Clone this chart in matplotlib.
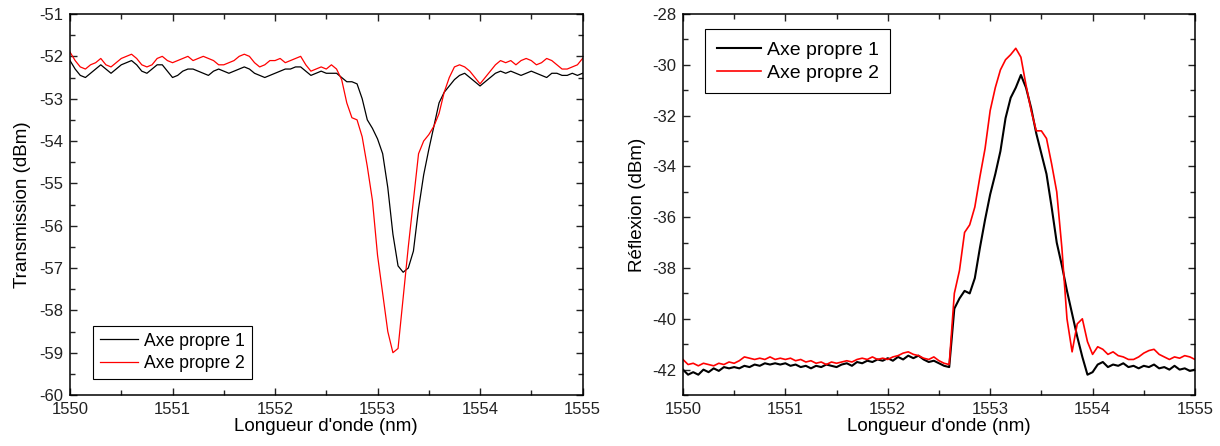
import numpy as np
import matplotlib
matplotlib.use("Agg")
import matplotlib.pyplot as plt
from matplotlib.ticker import MultipleLocator

plt.rcParams['font.family'] = ['Liberation Sans', 'DejaVu Sans']
plt.rcParams['axes.unicode_minus'] = False

# Transmission spectra (dBm), sampled every 0.05 nm from 1550 to 1555 nm
trans_axe1 = [
    -52.1, -52.3, -52.45, -52.5, -52.4, -52.3, -52.2, -52.3, -52.4, -52.3,      # 1550.0
    -52.2, -52.15, -52.1, -52.2, -52.35, -52.4, -52.3, -52.2, -52.2, -52.35,    # 1550.5
    -52.5, -52.45, -52.35, -52.3, -52.3, -52.35, -52.4, -52.45, -52.35, -52.3,  # 1551.0
    -52.35, -52.4, -52.35, -52.3, -52.25, -52.3, -52.4, -52.45, -52.5, -52.45,  # 1551.5
    -52.4, -52.35, -52.3, -52.3, -52.25, -52.25, -52.35, -52.45, -52.4, -52.35, # 1552.0
    -52.4, -52.4, -52.4, -52.5, -52.6, -52.6, -52.65, -53.0, -53.5, -53.7,      # 1552.5
    -53.95, -54.3, -55.1, -56.2, -56.95, -57.1, -57.0, -56.6, -55.6, -54.8,     # 1553.0
    -54.2, -53.65, -53.1, -52.85, -52.7, -52.55, -52.45, -52.4, -52.5, -52.6,   # 1553.5
    -52.7, -52.6, -52.5, -52.4, -52.35, -52.4, -52.35, -52.4, -52.45, -52.4,    # 1554.0
    -52.35, -52.4, -52.45, -52.5, -52.4, -52.4, -52.45, -52.45, -52.4, -52.45,  # 1554.5
    -52.4,                                                                      # 1555.0
]
trans_axe2 = [
    -51.9, -52.1, -52.25, -52.3, -52.2, -52.15, -52.05, -52.2, -52.25, -52.15,  # 1550.0
    -52.05, -52.0, -51.95, -52.05, -52.2, -52.25, -52.2, -52.05, -52.0, -52.1,  # 1550.5
    -52.15, -52.1, -52.05, -52.0, -52.1, -52.05, -52.0, -52.05, -52.1, -52.2,   # 1551.0
    -52.2, -52.15, -52.1, -52.0, -51.95, -52.0, -52.15, -52.25, -52.2, -52.1,   # 1551.5
    -52.1, -52.05, -52.15, -52.1, -52.05, -52.0, -52.2, -52.35, -52.3, -52.25,  # 1552.0
    -52.3, -52.2, -52.3, -52.55, -53.1, -53.45, -53.5, -53.9, -54.6, -55.4,     # 1552.5
    -56.7, -57.6, -58.5, -59.0, -58.9, -57.7, -56.5, -55.4, -54.3, -54.0,       # 1553.0
    -53.85, -53.65, -53.35, -52.85, -52.5, -52.25, -52.2, -52.25, -52.35, -52.5,  # 1553.5
    -52.65, -52.5, -52.35, -52.2, -52.1, -52.15, -52.1, -52.2, -52.1, -52.05,   # 1554.0
    -52.1, -52.2, -52.15, -52.05, -52.1, -52.2, -52.3, -52.3, -52.25, -52.2,    # 1554.5
    -52.05,                                                                     # 1555.0
]

# Reflection spectra (dBm), same wavelength sampling
refl_axe1 = [
    -42.0, -42.2, -42.1, -42.2, -42.0, -42.1, -41.95, -42.05, -41.9, -41.95,    # 1550.0
    -41.9, -41.95, -41.85, -41.9, -41.8, -41.85, -41.75, -41.8, -41.75, -41.8,  # 1550.5
    -41.75, -41.85, -41.8, -41.9, -41.85, -41.95, -41.85, -41.9, -41.8, -41.85, # 1551.0
    -41.9, -41.8, -41.75, -41.85, -41.7, -41.75, -41.65, -41.7, -41.6, -41.65,  # 1551.5
    -41.55, -41.65, -41.5, -41.6, -41.45, -41.55, -41.45, -41.6, -41.7, -41.65, # 1552.0
    -41.75, -41.85, -41.9, -39.6, -39.2, -38.9, -39.0, -38.4, -37.2, -36.1,     # 1552.5
    -35.1, -34.3, -33.4, -32.1, -31.3, -30.9, -30.4, -30.9, -31.7, -32.7,       # 1553.0
    -33.5, -34.3, -35.6, -37.0, -37.9, -38.9, -39.8, -40.7, -41.5, -42.2,       # 1553.5
    -42.1, -41.8, -41.7, -41.9, -41.8, -41.85, -41.75, -41.9, -41.85, -41.95,   # 1554.0
    -41.85, -41.9, -41.8, -41.95, -41.9, -42.0, -41.85, -42.0, -41.95, -42.05,  # 1554.5
    -42.0,                                                                      # 1555.0
]
refl_axe2 = [
    -41.6, -41.8, -41.75, -41.85, -41.75, -41.8, -41.85, -41.75, -41.8, -41.7,  # 1550.0
    -41.75, -41.65, -41.5, -41.55, -41.6, -41.55, -41.6, -41.5, -41.6, -41.55,  # 1550.5
    -41.6, -41.55, -41.65, -41.6, -41.7, -41.65, -41.75, -41.7, -41.8, -41.7,   # 1551.0
    -41.75, -41.7, -41.65, -41.7, -41.6, -41.55, -41.6, -41.5, -41.6, -41.55,   # 1551.5
    -41.6, -41.5, -41.45, -41.35, -41.3, -41.4, -41.45, -41.55, -41.6, -41.5,   # 1552.0
    -41.65, -41.75, -41.8, -39.0, -38.1, -36.6, -36.3, -35.6, -34.4, -33.3,     # 1552.5
    -31.8, -30.9, -30.2, -29.8, -29.6, -29.35, -29.7, -30.8, -31.8, -32.6,      # 1553.0
    -32.6, -32.9, -33.9, -35.0, -37.2, -40.0, -41.3, -40.2, -40.0, -40.9,       # 1553.5
    -41.4, -41.1, -41.2, -41.4, -41.3, -41.45, -41.5, -41.6, -41.6, -41.5,      # 1554.0
    -41.35, -41.25, -41.2, -41.4, -41.5, -41.6, -41.5, -41.55, -41.45, -41.5,   # 1554.5
    -41.6,                                                                      # 1555.0
]

wl = np.linspace(1550, 1555, len(trans_axe1))
labels = ['Axe propre 1', 'Axe propre 2']


def style_axes(ax, ymin, ymax, ymajor, yminor):
    ax.set_xlim(1550, 1555)
    ax.set_ylim(ymin, ymax)
    ax.xaxis.set_major_locator(MultipleLocator(1))
    ax.xaxis.set_minor_locator(MultipleLocator(0.5))
    ax.yaxis.set_major_locator(MultipleLocator(ymajor))
    ax.yaxis.set_minor_locator(MultipleLocator(yminor))
    ax.tick_params(which='both', direction='in', top=True, right=True,
                   labelsize=12, colors='#222222', width=1.0, pad=5)
    ax.tick_params(which='major', length=5)
    ax.tick_params(which='minor', length=3.5)
    for sp in ax.spines.values():
        sp.set_linewidth(1.1)
    ax.set_xlabel("Longueur d'onde (nm)", fontsize=13.5, labelpad=1)


fig = plt.figure(figsize=(12.2, 4.46), dpi=100)
ax1 = fig.add_axes([0.0574, 0.1143, 0.4201, 0.8543])
ax2 = fig.add_axes([0.5598, 0.1143, 0.4197, 0.8543])

# Transmission
ax1.plot(wl, trans_axe1, color='black', lw=0.9, label=labels[0])
ax1.plot(wl, trans_axe2, color='red', lw=0.9, label=labels[1])
style_axes(ax1, -60, -51, 1, 0.5)
ax1.set_ylabel('Transmission (dBm)', fontsize=13.5, labelpad=6)
leg1 = ax1.legend(loc='lower left', bbox_to_anchor=(0.045, 0.042), fontsize=12.7,
                  fancybox=False, edgecolor='black', framealpha=1,
                  handlelength=2.15, handletextpad=0.35, borderpad=0.4,
                  labelspacing=0.3, borderaxespad=0)
leg1.get_frame().set_linewidth(0.8)

# Reflexion
ax2.plot(wl, refl_axe1, color='black', lw=1.5, label=labels[0])
ax2.plot(wl, refl_axe2, color='red', lw=1.2, label=labels[1])
style_axes(ax2, -43, -28, 2, 1)
ax2.set_ylabel('Réflexion (dBm)', fontsize=13.5, labelpad=4)
leg2 = ax2.legend(loc='upper left', bbox_to_anchor=(0.043, 0.96), fontsize=14,
                  fancybox=False, edgecolor='black', framealpha=1,
                  handlelength=2.27, handletextpad=0.3, borderpad=0.6,
                  labelspacing=0.28, borderaxespad=0)
leg2.get_frame().set_linewidth(0.8)

fig.savefig('out.png', dpi=100, facecolor='white')
